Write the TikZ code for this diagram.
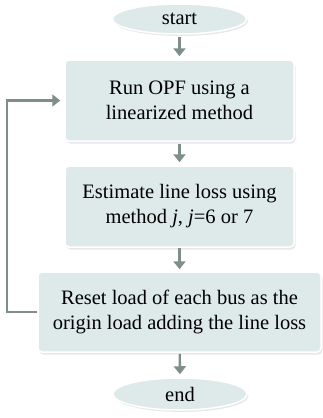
\documentclass[tikz,border=0pt]{standalone}
\usepackage{fontspec}
\setmainfont{Liberation Serif}
\usetikzlibrary{shapes.geometric, arrows.meta, shadows}

\definecolor{boxfill}{HTML}{DDEAE9}
\definecolor{flowline}{HTML}{7E8E8B}

\tikzset{
  terminal/.style={ellipse, fill=boxfill, draw=white, line width=1.5pt,
    minimum width=134pt, minimum height=30pt, inner sep=0pt,
    drop shadow={opacity=0.18, shadow xshift=1.5pt, shadow yshift=-2pt}},
  stepbox/.style={rectangle, rounded corners=4pt, fill=boxfill, draw=white, line width=1.5pt,
    minimum height=81pt, align=center, inner sep=0pt,
    drop shadow={opacity=0.18, shadow xshift=1.5pt, shadow yshift=-2.5pt}},
  flow/.style={draw=flowline, line width=2.4pt, -{Triangle[width=12pt,length=8pt]}}
}

\begin{document}
\begin{tikzpicture}[x=1pt, y=1pt, font=\fontsize{20.5}{25}\selectfont]
    \useasboundingbox (0,0) rectangle (323,-418);

    \node [terminal] (start) at (179.5,-19) {start};
    \node [stepbox, minimum width=229pt] (opf) at (179.5,-100.5) {Run OPF using a\\linearized method};
    \node [stepbox, minimum width=229pt] (loss) at (179.5,-206.5) {Estimate line loss using\\method \textit{j}, \textit{j}=6 or 7};
    \node [stepbox, minimum width=283pt, minimum height=80pt] (reset) at (179.5,-312) {Reset load of each bus as the\\origin load adding the line loss};
    \node [terminal, minimum height=32pt] (end) at (180,-394) {end};

    \draw [flow, shorten <=2pt, shorten >=3pt] (start) -- (opf);
    \draw [flow, shorten <=2pt, shorten >=3pt] (opf) -- (loss);
    \draw [flow, shorten <=0pt, shorten >=2pt] (loss) -- (reset);
    \draw [flow, shorten <=1pt, shorten >=3pt] (reset) -- (end);

    % loop back to the OPF step
    \draw [flow, shorten >=4pt] (reset.west) -- ++(-30,0) |- (opf.west);
\end{tikzpicture}
\end{document}
